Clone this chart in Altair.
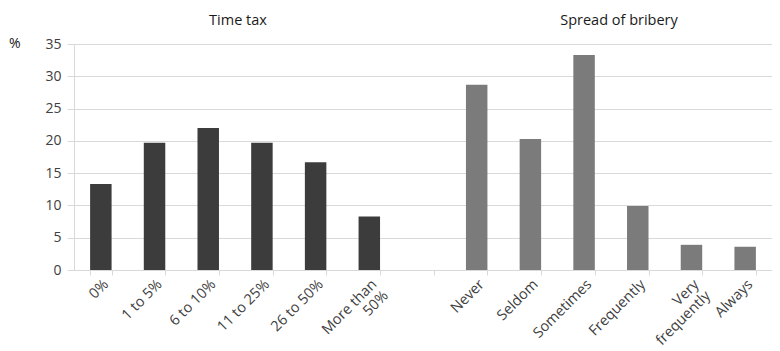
import altair as alt
import pandas as pd

time_tax_cats = ["0%", "1 to 5%", "6 to 10%", "11 to 25%", "26 to 50%", "More than 50%"]
time_tax_vals = [13.3, 19.7, 22.0, 19.7, 16.7, 8.3]
bribery_cats = ["Never", "Seldom", "Sometimes", "Frequently", "Very frequently", "Always"]
bribery_vals = [28.7, 20.3, 33.3, 9.9, 3.9, 3.6]
group_titles = ["Time tax", "Spread of bribery"]
y_ticks = [0, 5, 10, 15, 20, 25, 30, 35]

gap = " "
domain = time_tax_cats + [gap] + bribery_cats

df = pd.DataFrame({
    "cat": time_tax_cats + bribery_cats,
    "val": time_tax_vals + bribery_vals,
    "grp": [group_titles[0]] * len(time_tax_cats) + [group_titles[1]] * len(bribery_cats),
})

FONT = "Open Sans"
W, H = 698, 226

label_expr = ("datum.label == 'More than 50%' ? ['More than', '50%'] : "
              "datum.label == 'Very frequently' ? ['Very', 'frequently'] : datum.label")

bars = alt.Chart(df).mark_bar().encode(
    x=alt.X("cat:N", sort=domain,
            scale=alt.Scale(domain=domain, paddingInner=0.6, paddingOuter=0.3),
            axis=alt.Axis(title=None, labelAngle=-45, labelExpr=label_expr,
                          tickBand="extent", domainColor="#d9d9d9", tickColor="#d9d9d9",
                          tickSize=5, labelFont=FONT, labelFontSize=14.5,
                          labelColor="#404040", labelPadding=2, grid=False,
                          labelAlign="right", labelBaseline="top", labelLineHeight=16)),
    y=alt.Y("val:Q", scale=alt.Scale(domain=[0, 35]),
            axis=alt.Axis(title=None, values=y_ticks, grid=True, gridColor="#d9d9d9",
                          domainColor="#d9d9d9", tickColor="#d9d9d9", tickSize=7,
                          labelFont=FONT, labelFontSize=14, labelColor="#404040",
                          labelPadding=6)),
    color=alt.Color("grp:N", scale=alt.Scale(domain=group_titles, range=["#3c3c3c", "#7b7b7b"]),
                    legend=None),
)

titles = pd.DataFrame({"t": group_titles, "px": [164, 545]})
title_text = alt.Chart(titles).mark_text(font=FONT, fontSize=14.5, color="#1a1a1a",
                                         align="center", baseline="middle").encode(
    text="t:N",
    x=alt.X("px:Q", scale=None),
    y=alt.value(-23),
)

pct = alt.Chart(pd.DataFrame({"t": ["%"]})).mark_text(
    font=FONT, fontSize=14, color="#1a1a1a", align="left", baseline="middle").encode(
    text="t:N", x=alt.value(-65), y=alt.value(0))

chart = alt.layer(bars, title_text, pct).properties(
    width=W, height=H,
    autosize=alt.AutoSizeParams(type="none"),
    padding={"left": 66, "top": 36, "right": 0, "bottom": 81},
).configure_view(stroke=None)

chart.save("out.html", embed_options={"renderer": "svg", "actions": False})
